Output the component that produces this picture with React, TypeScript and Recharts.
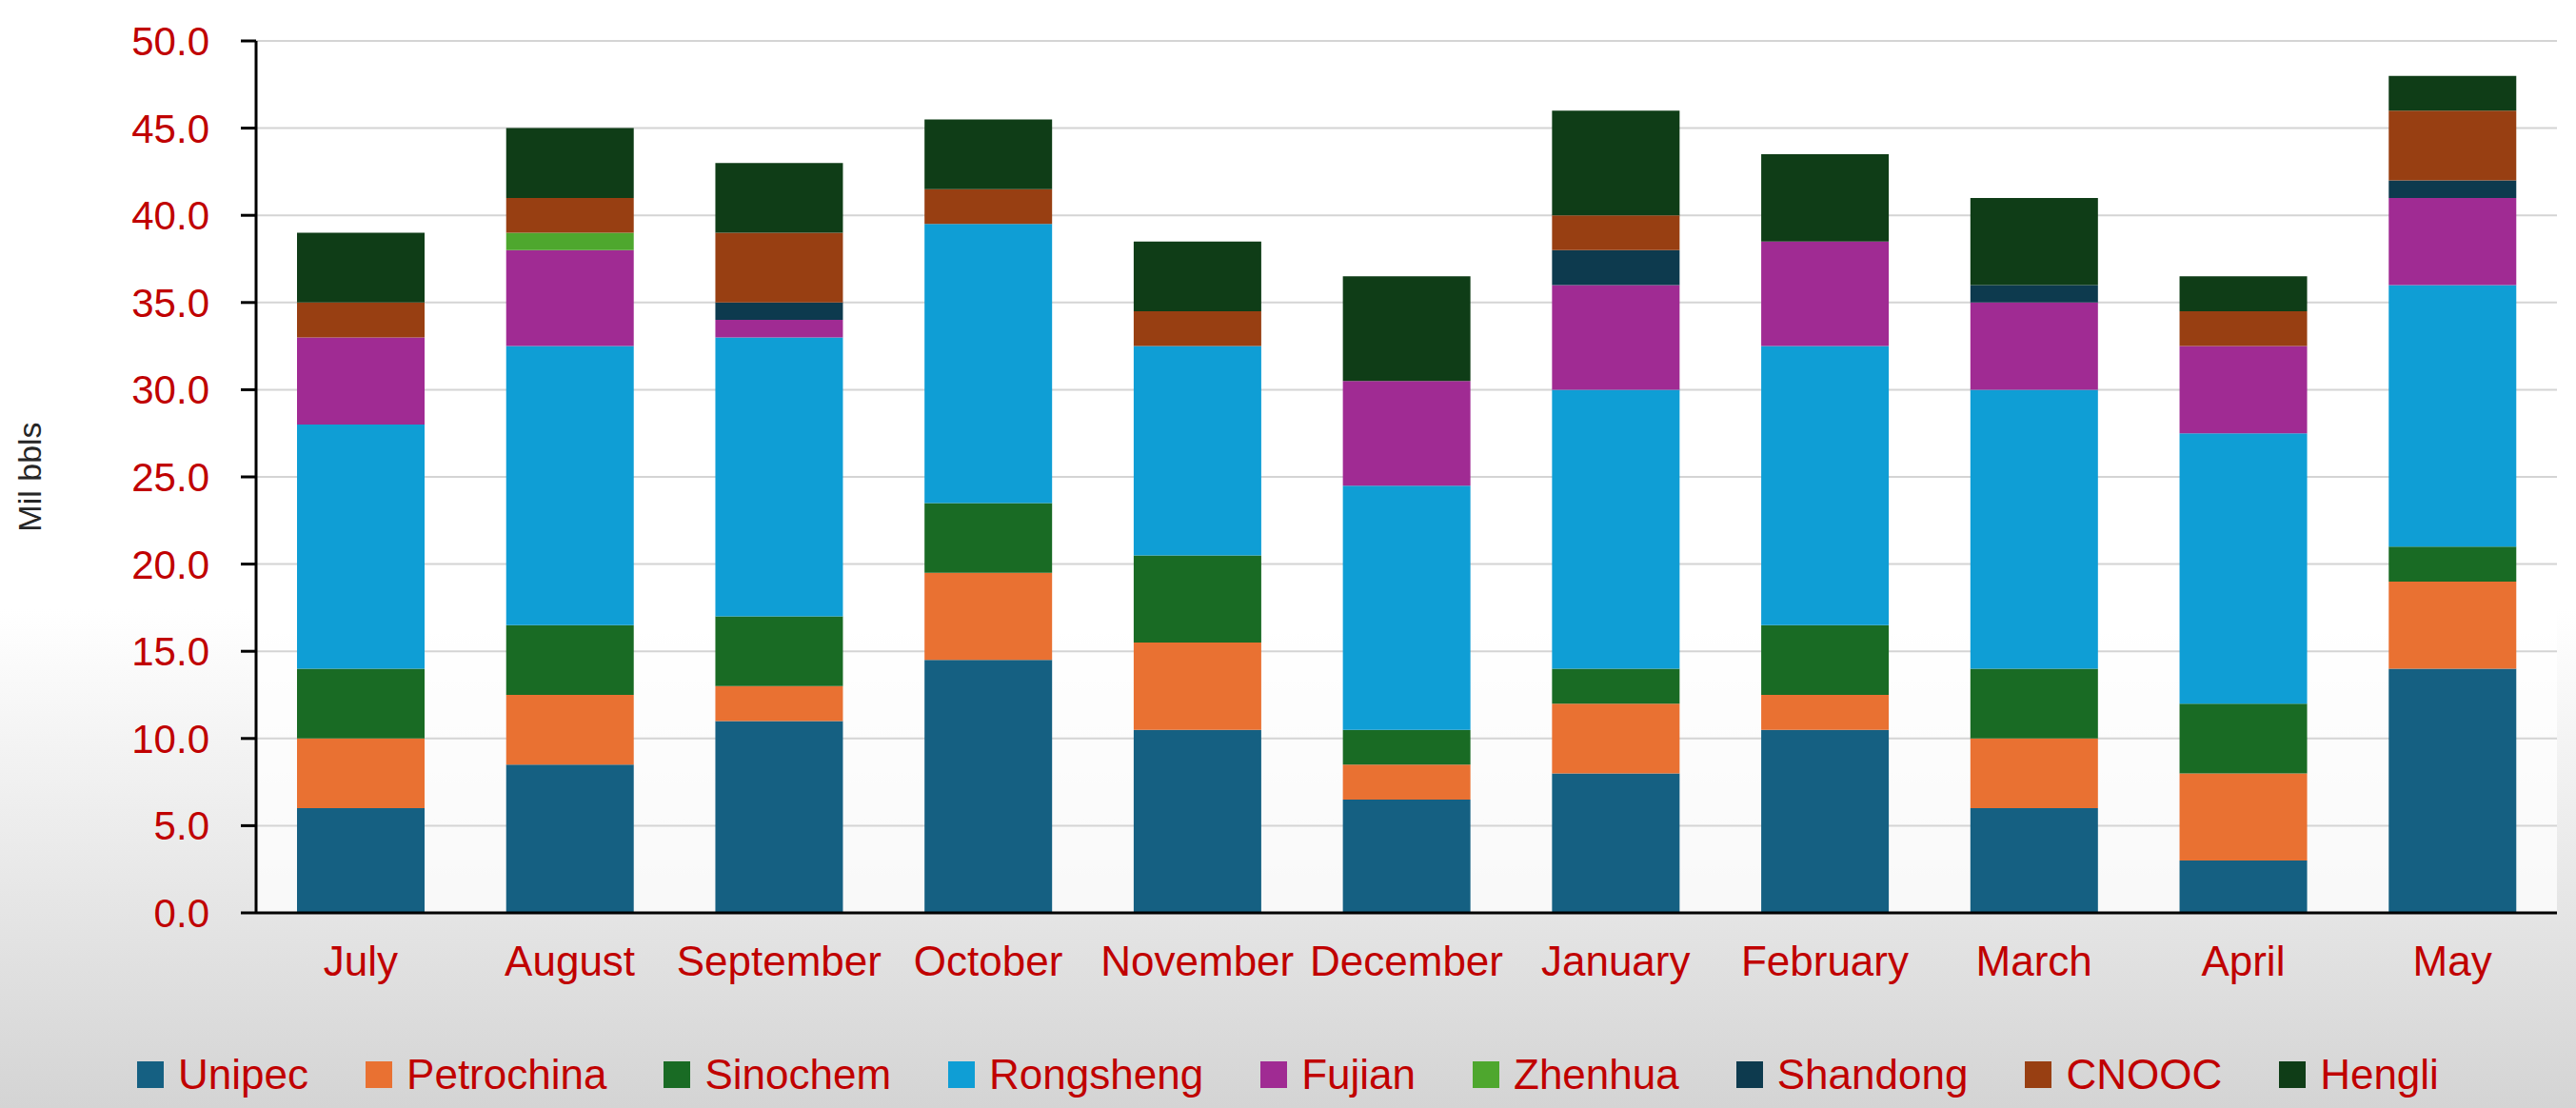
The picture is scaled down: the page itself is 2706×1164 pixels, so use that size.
import React from "react";
import { BarChart, Bar, XAxis, YAxis, CartesianGrid, Legend } from "recharts";

const months = ["July", "August", "September", "October", "November", "December", "January", "February", "March", "April", "May"];

const unipec = [6, 8.5, 11, 14.5, 10.5, 6.5, 8, 10.5, 6, 3, 14];
const petrochina = [4, 4, 2, 5, 5, 2, 4, 2, 4, 5, 5];
const sinochem = [4, 4, 4, 4, 5, 2, 2, 4, 4, 4, 2];
const rongsheng = [14, 16, 16, 16, 12, 14, 16, 16, 16, 15.5, 15];
const fujian = [5, 5.5, 1, 0, 0, 6, 6, 6, 5, 5, 5];
const zhenhua = [0, 1, 0, 0, 0, 0, 0, 0, 0, 0, 0];
const shandong = [0, 0, 1, 0, 0, 0, 2, 0, 1, 0, 1];
const cnooc = [2, 2, 4, 2, 2, 0, 2, 0, 0, 2, 4];
const hengli = [4, 4, 4, 4, 4, 6, 6, 5, 5, 2, 2];

const yTicks = [0, 5, 10, 15, 20, 25, 30, 35, 40, 45, 50];

const seriesNames = ["Unipec", "Petrochina", "Sinochem", "Rongsheng", "Fujian", "Zhenhua", "Shandong", "CNOOC", "Hengli"];
const seriesValues = [unipec, petrochina, sinochem, rongsheng, fujian, zhenhua, shandong, cnooc, hengli];
const seriesColors = ["#156082", "#E97132", "#196B24", "#0F9ED5", "#A02B93", "#4EA72E", "#0D3A4E", "#983F12", "#0F3D17"];

const data = months.map((m, i) => {
  const row: Record<string, string | number> = { month: m };
  seriesNames.forEach((s, k) => {
    row[s] = seriesValues[k][i];
  });
  return row;
});

const RED = "#C00000";
const FONT = "'Liberation Sans', Arial, sans-serif";

const renderLegend = () => (
  <div
    style={{
      height: 70,
      display: "flex",
      alignItems: "center",
      justifyContent: "center",
      fontFamily: FONT,
      fontSize: 44,
      color: RED,
    }}
  >
    {seriesNames.map((s, k) => (
      <div
        key={s}
        style={{ display: "flex", alignItems: "center", marginRight: k === seriesNames.length - 1 ? 0 : 60 }}
      >
        <div style={{ width: 28, height: 28, background: seriesColors[k], marginRight: 15 }} />
        <span style={{ whiteSpace: "nowrap", lineHeight: "50px" }}>{s}</span>
      </div>
    ))}
  </div>
);

export default function App() {
  return (
    <div
      style={{
        position: "absolute",
        left: 0,
        top: 0,
        width: 2706,
        height: 1164,
        overflow: "hidden",
        fontFamily: FONT,
        background: "linear-gradient(to bottom, #ffffff 0%, #ffffff 55%, #d4d4d4 100%)",
      }}
    >
      <BarChart
        width={2706}
        height={1164}
        data={data}
        margin={{ top: 43, right: 20, left: 0, bottom: 0 }}
      >
        <CartesianGrid
          vertical={false}
          stroke="#d4d4d4"
          strokeWidth={2}
          fill="#ffffff"
          fillOpacity={0.75}
        />
        <XAxis
          dataKey="month"
          height={135}
          tickLine={false}
          tickSize={0}
          tickMargin={35}
          axisLine={{ stroke: "#000000", strokeWidth: 3 }}
          tick={{ fill: RED, fontSize: 44, fontFamily: FONT }}
          interval={0}
        />
        <YAxis
          width={269}
          domain={[0, 50]}
          ticks={yTicks}
          interval={0}
          tickFormatter={(v: number) => v.toFixed(1)}
          tickSize={16}
          tickMargin={33}
          axisLine={{ stroke: "#000000", strokeWidth: 3 }}
          tickLine={{ stroke: "#000000", strokeWidth: 3 }}
          tick={{ fill: RED, fontSize: 42, fontFamily: FONT }}
        />
        <Legend
          verticalAlign="bottom"
          align="center"
          content={renderLegend}
          wrapperStyle={{ left: 0, width: 2706 }}
        />
        {seriesNames.map((s, k) => (
          <Bar
            key={s}
            dataKey={s}
            stackId="a"
            fill={seriesColors[k]}
            barSize={134}
            isAnimationActive={false}
          />
        ))}
      </BarChart>
      <div
        style={{
          position: "absolute",
          left: 31,
          top: 501,
          transform: "translate(-50%, -50%) rotate(-90deg)",
          whiteSpace: "nowrap",
          fontSize: 34,
          color: "#262626",
          fontFamily: FONT,
        }}
      >
        Mil bbls
      </div>
    </div>
  );
}
